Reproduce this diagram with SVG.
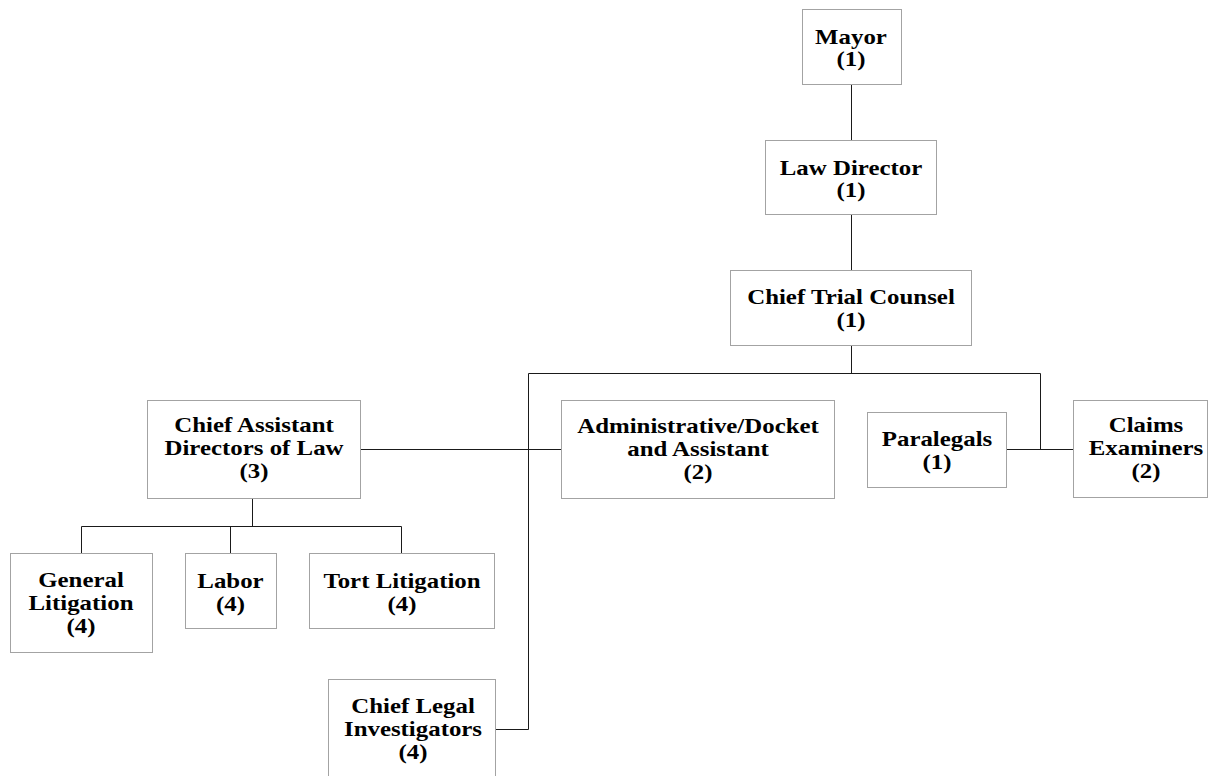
<svg xmlns="http://www.w3.org/2000/svg" width="1210" height="776" viewBox="0 0 1210 776">
  <style>
    .box { fill: #ffffff; stroke: #a3a3a3; stroke-width: 1; }
    .lbl { font-family: "Liberation Serif", "Times New Roman", serif; font-weight: bold; font-size: 22px; fill: #000000; text-anchor: middle; }
    .wire { stroke: #1a1a1a; stroke-width: 1; fill: none; }
  </style>
  <rect width="1210" height="776" fill="#ffffff"/>

  <!-- reporting lines -->
  <g id="connectors">
    <path class="wire" d="M851.5 84.5 V140.5"/>
    <path class="wire" d="M851.5 214.5 V270.5"/>
    <path class="wire" d="M851.5 345.5 V373.5"/>
    <path class="wire" d="M528.5 373.5 H1040.5"/>
    <path class="wire" d="M528.5 373.5 V729.5 H495.5"/>
    <path class="wire" d="M1040.5 373.5 V449.5"/>
    <path class="wire" d="M1006.5 449.5 H1073.5"/>
    <path class="wire" d="M360.5 449.5 H561.5"/>
    <path class="wire" d="M252.5 498.5 V526.5"/>
    <path class="wire" d="M81.5 526.5 H401.5"/>
    <path class="wire" d="M81.5 526.5 V553.5"/>
    <path class="wire" d="M230.5 526.5 V553.5"/>
    <path class="wire" d="M401.5 526.5 V553.5"/>
  </g>

  <g id="mayor">
    <rect class="box" x="802.5" y="9.5" width="99" height="75"/>
    <g transform="translate(851 0) scale(1.13 1)">
      <text class="lbl" x="0" y="44">Mayor</text>
      <text class="lbl" x="0" y="66">(1)</text>
    </g>
  </g>

  <g id="law-director">
    <rect class="box" x="765.5" y="140.5" width="171" height="74"/>
    <g transform="translate(851 0) scale(1.13 1)">
      <text class="lbl" x="0" y="175">Law Director</text>
      <text class="lbl" x="0" y="197">(1)</text>
    </g>
  </g>

  <g id="chief-trial-counsel">
    <rect class="box" x="730.5" y="270.5" width="241" height="75"/>
    <g transform="translate(851 0) scale(1.13 1)">
      <text class="lbl" x="0" y="304">Chief Trial Counsel</text>
      <text class="lbl" x="0" y="327">(1)</text>
    </g>
  </g>

  <g id="chief-assistant-directors">
    <rect class="box" x="147.5" y="400.5" width="213" height="98"/>
    <g transform="translate(254 0) scale(1.13 1)">
      <text class="lbl" x="0" y="432">Chief Assistant</text>
      <text class="lbl" x="0" y="455">Directors of Law</text>
      <text class="lbl" x="0" y="478">(3)</text>
    </g>
  </g>

  <g id="administrative-docket">
    <rect class="box" x="561.5" y="400.5" width="273" height="98"/>
    <g transform="translate(698 0) scale(1.13 1)">
      <text class="lbl" x="0" y="433">Administrative/Docket</text>
      <text class="lbl" x="0" y="456">and Assistant</text>
      <text class="lbl" x="0" y="479">(2)</text>
    </g>
  </g>

  <g id="paralegals">
    <rect class="box" x="867.5" y="412.5" width="139" height="75"/>
    <g transform="translate(937 0) scale(1.13 1)">
      <text class="lbl" x="0" y="446">Paralegals</text>
      <text class="lbl" x="0" y="469">(1)</text>
    </g>
  </g>

  <g id="claims-examiners">
    <rect class="box" x="1073.5" y="400.5" width="134" height="97"/>
    <g transform="translate(1146 0) scale(1.13 1)">
      <text class="lbl" x="0" y="432">Claims</text>
      <text class="lbl" x="0" y="455">Examiners</text>
      <text class="lbl" x="0" y="478">(2)</text>
    </g>
  </g>

  <g id="general-litigation">
    <rect class="box" x="10.5" y="553.5" width="142" height="99"/>
    <g transform="translate(81 0) scale(1.13 1)">
      <text class="lbl" x="0" y="587">General</text>
      <text class="lbl" x="0" y="610">Litigation</text>
      <text class="lbl" x="0" y="633">(4)</text>
    </g>
  </g>

  <g id="labor">
    <rect class="box" x="185.5" y="553.5" width="91" height="75"/>
    <g transform="translate(230.5 0) scale(1.13 1)">
      <text class="lbl" x="0" y="588">Labor</text>
      <text class="lbl" x="0" y="611">(4)</text>
    </g>
  </g>

  <g id="tort-litigation">
    <rect class="box" x="309.5" y="553.5" width="185" height="75"/>
    <g transform="translate(402 0) scale(1.13 1)">
      <text class="lbl" x="0" y="588">Tort Litigation</text>
      <text class="lbl" x="0" y="611">(4)</text>
    </g>
  </g>

  <g id="chief-legal-investigators">
    <rect class="box" x="328.5" y="679.5" width="167" height="98"/>
    <g transform="translate(413 0) scale(1.13 1)">
      <text class="lbl" x="0" y="713">Chief Legal</text>
      <text class="lbl" x="0" y="736">Investigators</text>
      <text class="lbl" x="0" y="759">(4)</text>
    </g>
  </g>
</svg>
